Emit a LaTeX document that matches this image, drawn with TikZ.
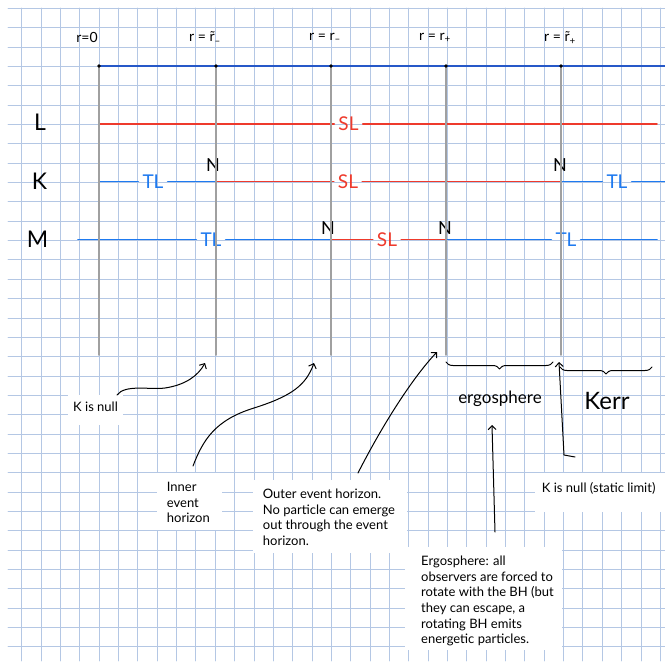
\documentclass[tikz,border=0pt]{standalone}
\usepackage{fontspec}
\setmainfont{Lato}
\usetikzlibrary{arrows.meta,decorations.pathreplacing}
\definecolor{gridblue}{RGB}{180,199,228}
\definecolor{guidegray}{RGB}{160,160,160}
\definecolor{axisblue}{RGB}{38,88,200}
\definecolor{timeblue}{RGB}{30,122,240}
\definecolor{spacered}{RGB}{238,58,44}
\begin{document}
\begin{tikzpicture}[x=1pt,y=-1pt,line cap=round,line join=round,
  gridline/.style={gridblue,line width=0.8pt},
  guideline/.style={guidegray,line width=1.7pt},
  timelike/.style={timeblue,line width=1.7pt},
  spacelike/.style={spacered,line width=1.7pt},
  timelabel/.style={text=timeblue,font=\fontsize{19}{19}\selectfont,inner sep=4pt},
  spacelabel/.style={text=spacered,font=\fontsize{19}{19}\selectfont,inner sep=4pt},
  nulllabel/.style={font=\fontsize{18}{18}\selectfont,inner sep=0pt},
  rowname/.style={font=\fontsize{23}{23}\selectfont,inner sep=0pt},
  radius label/.style={font=\fontsize{14}{14}\selectfont,inner sep=0pt},
  typednote/.style={align=left,inner sep=0pt,font=\fontsize{13}{15.6}\selectfont},
  paperpatch/.style={fill=white},
  pointer/.style={black,line width=1pt,-{Straight Barb[length=4pt,width=8pt]}},
  bracket/.style={black,line width=1pt,decorate,decoration={brace,mirror,amplitude=7pt}}]
  \useasboundingbox (0,0) rectangle (665,662);
  \fill[white] (0,0) rectangle (665,662);

  % Squared paper.
  \foreach \k in {0,...,33}{
   \draw[gridline] ({21.7+19.35*\k},8) -- ({21.7+19.35*\k},661);
   \draw[gridline] (8,{8.3+19.35*\k}) -- (665,{8.3+19.35*\k});
  }

  % White patches behind the typed notes.
  \fill[paperpatch] (68,395) rectangle (123,425);
  \fill[paperpatch] (157,473) rectangle (222,530);
  \fill[paperpatch] (253,480) rectangle (407,553);
  \fill[paperpatch] (535,473) rectangle (665,512);
  \fill[paperpatch] (405,547) rectangle (562,650);

  % The special radii: top of the guide, its foot, and the three rows.
  \foreach \x/\n in {99/a,216/b,331/c,446/d,561/e}{
   \coordinate (top\n) at (\x,66);
   \coordinate (foot\n) at (\x,355);
   \coordinate (L\n) at (\x,124);
   \coordinate (K\n) at (\x,181.5);
   \coordinate (M\n) at (\x,239.5);
  }
  \coordinate (axisend) at (665,66);
  \coordinate (Lend) at (657,124);
  \coordinate (Kend) at (665,181.5);
  \coordinate (Mstart) at (78,239.5);
  \coordinate (Mend) at (657,239.5);

  \node[radius label] (ra) at (87,37) {r=0};
  \node[radius label] (rb) at (205,38) {r = \~{r}\textsubscript{--}};
  \node[radius label] (rc) at (325,38) {r = r\textsubscript{--}};
  \node[radius label] (rd) at (435,38) {r = r\textsubscript{+}};
  \node[radius label] (re) at (560,38) {r = \~{r}\textsubscript{+}};

  % Row names.
  \node[rowname] (Lname) at (40,122) {L};
  \node[rowname] (Kname) at (39.5,181) {K};
  \node[rowname] (Mname) at (37.5,239) {M};

  % L row: spacelike everywhere.
  \node[spacelabel] (slL) at (348.5,124) {SL};
  \draw[spacelike] (La) -- (slL) -- (Lend);

  % K row: timelike, null at the two tilde radii, spacelike between.
  \node[timelabel] (tlK1) at (153,181.5) {TL};
  \node[spacelabel] (slK) at (348,181.5) {SL};
  \node[timelabel] (tlK2) at (617,181.5) {TL};
  \draw[timelike] (Ka) -- (tlK1) -- (Kb);
  \draw[spacelike] (Kb) -- (slK) -- (Ke);
  \draw[timelike] (Ke) -- (tlK2) -- (Kend);
  \node[nulllabel] (nK1) at (213,165) {N};
  \node[nulllabel] (nK2) at (560,165) {N};

  % M row: timelike, null at the horizons, spacelike between.
  \node[timelabel] (tlM1) at (211,239.5) {TL};
  \node[spacelabel] (slM) at (387,239.5) {SL};
  \node[timelabel] (tlM2) at (566,239.5) {TL};
  \draw[timelike] (Mstart) -- (tlM1) -- (Mc);
  \draw[spacelike] (Mc) -- (slM) -- (Md);
  \draw[timelike] (Md) -- (tlM2) -- (Mend);
  \node[nulllabel] (nM1) at (328,228) {N};
  \node[nulllabel] (nM2) at (445,228) {N};

  % Vertical guides and the radial axis on top.
  \foreach \n in {a,...,e}
   \draw[guideline] (top\n) -- (foot\n);
  \draw[axisblue,line width=1.7pt] (topa) -- (axisend);
  \foreach \n in {a,...,e}
   \fill (top\n) circle[radius=1.9];

  % Regions below the guides.
  \draw[bracket] (446,362) -- (553,362);
  \draw[bracket] (560,367) -- (652,367);
  \node[font=\fontsize{17}{17}\selectfont] (ergolabel) at (500,399) {ergosphere};
  \node[font=\fontsize{24}{24}\selectfont] (kerrlabel) at (607,401) {Kerr};

  % Typed notes.
  \node[typednote,anchor=west] (knull) at (73,407) {K is null};
  \node[typednote,anchor=north west] (inner) at (166.7,482) {Inner\\event\\horizon};
  \node[typednote,anchor=north west] (outer) at (262.7,489) {Outer event horizon.\\No particle can emerge\\out through the event\\horizon.};
  \node[typednote,anchor=west] (static) at (541.7,488) {K is null (static limit)};
  \node[typednote,anchor=north west] (ergonote) at (421,556) {Ergosphere: all\\observers are forced to\\rotate with the BH (but\\they can escape, a\\rotating BH emits\\energetic particles.};

  % Hand-drawn pointers from the notes to the radii.
  \coordinate (p1s) at (117,395);
  \coordinate (p1e) at (205,363);
  \coordinate (p2s) at (193,466);
  \coordinate (p2e) at (314,363);
  \coordinate (p3s) at (358,473);
  \coordinate (p3e) at (437,352);
  \coordinate (p4s) at (495,532);
  \coordinate (p4e) at (492,425);
  \coordinate (p5s) at (575,457);
  \coordinate (p5k) at (564,455);
  \coordinate (p5e) at (559,362);
  \draw[pointer] (p1s) .. controls (125,384) and (150,390) .. (165,388)
   .. controls (185,385) and (198,376) .. (p1e);
  \draw[pointer] (p2s) .. controls (203,440) and (215,420) .. (254,408)
   .. controls (292,396) and (306,385) .. (p2e);
  \draw[pointer] (p3s) .. controls (385,420) and (415,375) .. (p3e);
  \draw[pointer] (p4s) -- (p4e);
  \draw[pointer] (p5s) -- (p5k) -- (p5e);
 \end{tikzpicture}
\end{document}
